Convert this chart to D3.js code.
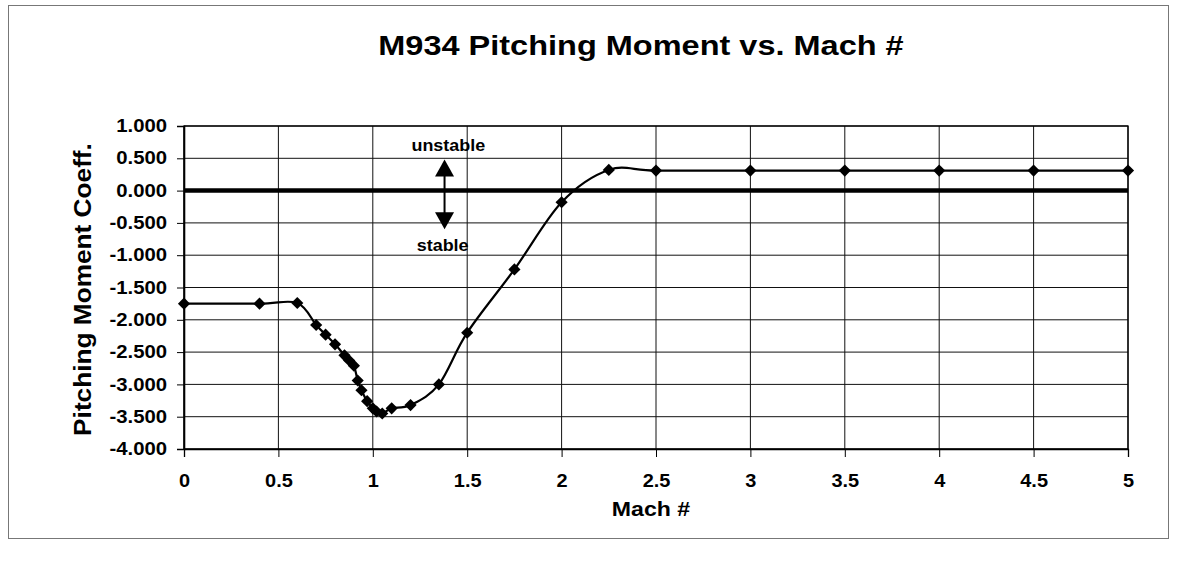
<!DOCTYPE html>
<html>
<head>
<meta charset="utf-8">
<script src="https://cdn.jsdelivr.net/npm/d3@7"></script>
<style>
  body { margin: 0; background: #fff; }
  svg text { font-family: "Liberation Sans", Arial, sans-serif; font-weight: bold; fill: #000; }
</style>
</head>
<body>
<svg id="chart" width="1177" height="561"></svg>
<script>
// Data

const mach = [0, 0.4, 0.6, 0.7, 0.75, 0.8, 0.85, 0.875, 0.9, 0.92, 0.94, 0.97, 1.0, 1.02, 1.05,
              1.1, 1.2, 1.35, 1.5, 1.75, 2.0, 2.25, 2.5, 3.0, 3.5, 4.0, 4.5, 5.0];
const cm = [-1.75, -1.75, -1.74, -2.08, -2.23, -2.38, -2.55, -2.63, -2.71, -2.94, -3.09, -3.26, -3.37, -3.42, -3.45,
            -3.37, -3.32, -3.0, -2.2, -1.22, -0.18, 0.32, 0.31, 0.31, 0.31, 0.31, 0.31, 0.31];

const xTicks = [0, 0.5, 1, 1.5, 2, 2.5, 3, 3.5, 4, 4.5, 5];
const yTicks = [1, 0.5, 0, -0.5, -1, -1.5, -2, -2.5, -3, -3.5, -4];

const title = "M934 Pitching Moment vs. Mach #";
const xTitle = "Mach #";
const yTitle = "Pitching Moment Coeff.";


// Scales

const svg = d3.select("#chart");
const x = d3.scaleLinear().domain([0, 5]).range([184, 1128]);
const y = d3.scaleLinear().domain([-4, 1]).range([449, 126]);

// scanned lettering is wider than Arial, stretch it a bit
function widen(sel, k) {
    sel.each(function () {
        const n = this.getComputedTextLength();
        this.setAttribute("textLength", n * k);
        this.setAttribute("lengthAdjust", "spacingAndGlyphs");
    });
}

// outer frame
svg.append("rect")
    .attr("x", 8.5).attr("y", 5.5)
    .attr("width", 1160).attr("height", 533)
    .attr("fill", "none").attr("stroke", "#777").attr("stroke-width", 1);

// title
svg.append("text")
    .attr("x", 641).attr("y", 55)
    .attr("text-anchor", "middle")
    .style("font-size", "28.5px")
    .text(title)
    .call(widen, 1.14);


// Grid

svg.append("g").selectAll("line")
    .data(yTicks)
    .join("line")
    .attr("x1", x(0)).attr("x2", x(5))
    .attr("y1", d => y(d)).attr("y2", d => y(d))
    .attr("stroke", "#111").attr("stroke-width", 1);

svg.append("g").selectAll("line")
    .data(xTicks)
    .join("line")
    .attr("x1", d => x(d)).attr("x2", d => x(d))
    .attr("y1", y(1)).attr("y2", y(-4))
    .attr("stroke", "#111").attr("stroke-width", 1);

svg.append("rect")
    .attr("x", x(0)).attr("y", y(1))
    .attr("width", x(5) - x(0)).attr("height", y(-4) - y(1))
    .attr("fill", "none").attr("stroke", "#000").attr("stroke-width", 1.3);


// Axes

const yAxis = svg.append("g")
    .attr("transform", `translate(${x(0)},0)`)
    .call(d3.axisLeft(y).tickValues(yTicks).tickSize(7).tickPadding(10).tickFormat(d => d.toFixed(3)));
yAxis.select(".domain").attr("stroke", "#000").attr("stroke-width", 1.6);
yAxis.selectAll(".tick line").attr("stroke", "#000");
yAxis.selectAll(".tick text")
    .style("font-size", "17.5px")
    .attr("fill", "#000")
    .call(widen, 1.16);

const xAxis = svg.append("g")
    .attr("transform", `translate(0,${y(-4)})`)
    .call(d3.axisBottom(x).tickValues(xTicks).tickSize(8).tickPadding(18).tickFormat(d3.format("")));
xAxis.select(".domain").attr("stroke", "#000").attr("stroke-width", 1.3);
xAxis.selectAll(".tick line").attr("stroke", "#000");
xAxis.selectAll(".tick text")
    .style("font-size", "17.5px")
    .attr("fill", "#000")
    .call(widen, 1.14);

svg.append("text")
    .attr("x", 651).attr("y", 516)
    .attr("text-anchor", "middle")
    .style("font-size", "21px")
    .text(xTitle)
    .call(widen, 1.1);

svg.append("text")
    .attr("transform", `translate(91,${(y(1) + y(-4)) / 2 + 2}) rotate(-90)`)
    .attr("text-anchor", "middle")
    .style("font-size", "23px")
    .text(yTitle)
    .call(widen, 1.14);


// Zero line (thick)

svg.append("line")
    .attr("x1", x(0)).attr("x2", x(5))
    .attr("y1", y(0)).attr("y2", y(0))
    .attr("stroke", "#000").attr("stroke-width", 4.5);


// Stable / unstable annotation

const ax = x(1.38);
const tip = { top: y(0.48), bottom: y(-0.6) };
svg.append("line")
    .attr("x1", ax).attr("x2", ax)
    .attr("y1", tip.top + 10).attr("y2", tip.bottom - 10)
    .attr("stroke", "#000").attr("stroke-width", 2);
svg.append("path")
    .attr("d", `M${ax},${tip.top} L${ax - 9.5},${tip.top + 17} L${ax + 9.5},${tip.top + 17} Z`)
    .attr("fill", "#000");
svg.append("path")
    .attr("d", `M${ax},${tip.bottom} L${ax - 9.5},${tip.bottom - 17} L${ax + 9.5},${tip.bottom - 17} Z`)
    .attr("fill", "#000");

svg.append("text")
    .attr("x", x(1.4)).attr("y", y(0.61))
    .attr("text-anchor", "middle")
    .style("font-size", "16px")
    .text("unstable")
    .call(widen, 1.12);
svg.append("text")
    .attr("x", x(1.37)).attr("y", y(-0.93))
    .attr("text-anchor", "middle")
    .style("font-size", "16px")
    .text("stable")
    .call(widen, 1.12);


// Series (Excel-style smoothing = uniform Catmull-Rom)

const points = mach.map((m, i) => [m, cm[i]]);

svg.append("path")
    .datum(points)
    .attr("fill", "none")
    .attr("stroke", "#000")
    .attr("stroke-width", 2.2)
    .attr("d", d3.line().x(d => x(d[0])).y(d => y(d[1])).curve(d3.curveCardinal.tension(0)));

svg.append("g").selectAll("path")
    .data(points)
    .join("path")
    .attr("transform", d => `translate(${x(d[0])},${y(d[1])}) rotate(45)`)
    .attr("d", d3.symbol(d3.symbolSquare, 74))
    .attr("fill", "#000");
</script>
</body>
</html>
